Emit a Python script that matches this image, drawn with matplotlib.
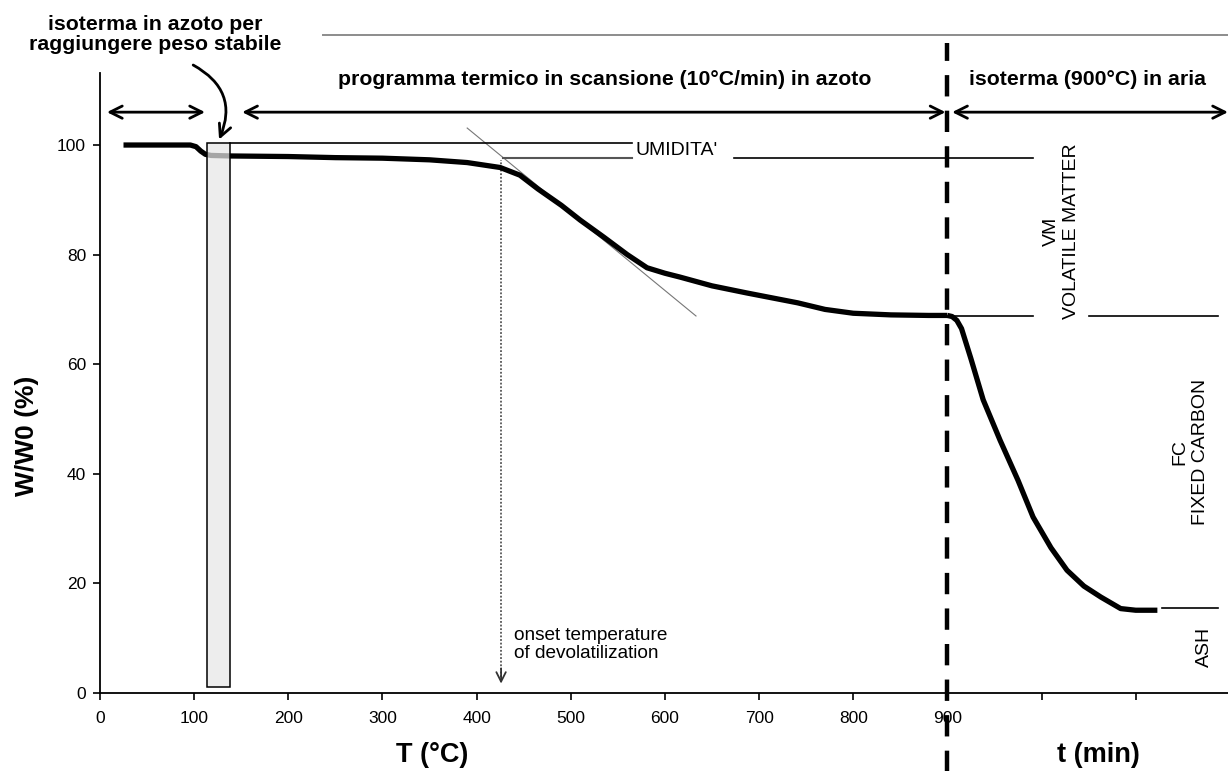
import matplotlib
matplotlib.use("Agg")
import matplotlib.pyplot as plt
from matplotlib import font_manager

names = {f.name for f in font_manager.fontManager.ttflist}
narrow = "Liberation Sans Narrow" if "Liberation Sans Narrow" in names else "Liberation Sans"
plt.rcParams["font.family"] = ["Liberation Sans", "DejaVu Sans"]

# scansione in azoto: temperatura (°C) e peso residuo (%)
T_scan = [25, 60, 96, 102, 107, 112, 118, 140, 200, 250, 300, 350, 390, 425, 446,
          465, 490, 510, 535, 560, 581, 600, 616, 650, 687, 741, 770, 800, 840, 880, 900]
W_scan = [100, 100, 100, 99.7, 98.9, 98.3, 98.1, 98.0, 97.9, 97.7, 97.6, 97.3, 96.8, 95.9, 94.5,
          92.0, 89.0, 86.3, 83.2, 80.0, 77.6, 76.6, 75.9, 74.3, 73.0, 71.2, 70.0, 69.3, 69.0, 68.9, 68.9]

# isoterma in aria (asse oltre 900 = tempo)
t_iso = [900, 905, 910, 915, 925, 938, 956, 975, 991, 1010, 1027, 1045, 1063, 1084, 1100, 1123]
W_iso = [68.9, 68.7, 68.0, 66.5, 61.0, 53.5, 46.1, 38.8, 32.1, 26.5, 22.4, 19.5, 17.5, 15.4, 15.1, 15.1]

x_ticks = [0, 100, 200, 300, 400, 500, 600, 700, 800, 900, 1000, 1100]
x_labels = ["0", "100", "200", "300", "400", "500", "600", "700", "800", "900", "", ""]
y_ticks = [0, 20, 40, 60, 80, 100]

umidita_level = 97.6
vm_level = 68.8
ash_level = 15.5
onset_T = 426

fig = plt.figure(figsize=(12.28, 7.71), dpi=100)
ax = fig.add_axes([0.0814, 0.1012, 0.9186, 0.8038])
ax.set_xlim(0, 1198)
ax.set_ylim(0, 113.1)

for s in ["top", "right"]:
    ax.spines[s].set_visible(False)
for s in ["left", "bottom"]:
    ax.spines[s].set_linewidth(1.3)

ax.set_xticks(x_ticks)
ax.set_xticklabels(x_labels)
ax.set_yticks(y_ticks)
ax.tick_params(direction="out", length=5, width=1.2, labelsize=12.5)
ax.tick_params(axis="x", pad=8)
ax.tick_params(axis="y", pad=5)
for lab in ax.get_xticklabels() + ax.get_yticklabels():
    lab.set_family([narrow, "Liberation Sans"])

# tangente per la temperatura di onset
ax.plot([390, 633], [103.1, 68.8], color="#777777", lw=0.8, zorder=2)

# linee di riferimento
ax.plot([138, 565], [100.4, 100.4], color="black", lw=1.2, zorder=2)
ax.plot([428, 565], [umidita_level, umidita_level], color="#555555", lw=1.5, zorder=2)
ax.plot([673, 991], [umidita_level, umidita_level], color="black", lw=1.2, zorder=2)
ax.plot([898, 991], [vm_level, vm_level], color="black", lw=1.2, zorder=2)
ax.plot([1050, 1187], [vm_level, vm_level], color="black", lw=1.2, zorder=2)
ax.plot([1128, 1187], [ash_level, ash_level], color="black", lw=1.2, zorder=2)

ax.text(569, 99.0, "UMIDITA'", fontsize=14, va="center", ha="left")

# curva TGA
ax.plot(T_scan, W_scan, color="black", lw=3.8, solid_capstyle="butt",
        solid_joinstyle="round", zorder=3)
ax.plot(t_iso, W_iso, color="black", lw=3.8, solid_capstyle="butt",
        solid_joinstyle="round", zorder=3)

# intervallo isoterma in azoto
ax.bar(126, 99.4, width=24, bottom=1, color=(0.9, 0.9, 0.9, 0.72),
       edgecolor="black", linewidth=1.1, zorder=4)

# onset
ax.vlines(onset_T, 3, umidita_level - 0.3, colors="#555555", linestyles=(0, (1, 1)), lw=1.3, zorder=2)
ax.annotate("", xy=(onset_T, 1.2), xytext=(onset_T, 5),
            arrowprops=dict(arrowstyle="->", lw=1.3, color="#333333", mutation_scale=17))
ax.text(440, 8.9, "onset temperature\nof devolatilization", fontsize=13.7,
        ha="left", va="center", linespacing=1.05)

# frecce delle fasi
arrow_y = 106
for x0, x1 in [(7.4, 111.6), (151, 898), (905, 1198)]:
    ax.annotate("", xy=(x1, arrow_y), xytext=(x0, arrow_y), annotation_clip=False,
                arrowprops=dict(arrowstyle="<->", lw=2, color="black",
                                mutation_scale=22, shrinkA=0, shrinkB=0))

ax.text(536, 111.9, "programma termico in scansione (10°C/min) in azoto",
        fontsize=15.3, fontweight="bold", ha="center", va="center")
ax.text(1087 / 0.9411 - 106.3, 111.9, "isoterma (900°C) in aria",
        fontsize=15.3, fontweight="bold", ha="center", va="center")

fig.text(155 / 1228, 1 - 34.5 / 771, "isoterma in azoto per\nraggiungere peso stabile",
         fontsize=15.3, fontweight="bold", ha="center", va="center", linespacing=1.1)
ax.annotate("", xy=(126.5, 101.0), xytext=(99, 114.6), annotation_clip=False,
            arrowprops=dict(arrowstyle="->", lw=2, color="black", mutation_scale=22,
                            shrinkA=0, shrinkB=0, connectionstyle="arc3,rad=-0.45"))

# componenti
ax.text(1021, 84.3, "VM\nVOLATILE MATTER", rotation=90, fontsize=14,
        ha="center", va="center", multialignment="center", linespacing=1.25,
        family=[narrow, "Liberation Sans"])
ax.text(1158, 44, "FC\nFIXED CARBON", rotation=90, fontsize=14,
        ha="center", va="center", multialignment="center", linespacing=1.25,
        family=[narrow, "Liberation Sans"])
ax.text(1173, 8.4, "ASH", rotation=90, fontsize=14, ha="center", va="center",
        family=[narrow, "Liberation Sans"])

# separazione scansione / isoterma
ax.plot([900, 900], [-0.13, 1.0485], transform=ax.get_xaxis_transform(), clip_on=False,
        color="black", lw=3.2, ls=(0, (4.8, 3.2)), zorder=6)

# linea grigia in alto
fig.add_artist(plt.Line2D([323 / 1228, 1.0], [1 - 35 / 771, 1 - 35 / 771],
                          color="#8c8c8c", lw=1.4))

fig.text(27 / 1228, 1 - 436 / 771, "W/W0 (%)", rotation=90, fontsize=19,
         fontweight="bold", ha="center", va="center")
fig.text(432 / 1228, 1 - 755 / 771, "T (°C)", fontsize=19.5, fontweight="bold",
         ha="center", va="center")
fig.text(1098 / 1228, 1 - 755 / 771, "t (min)", fontsize=19.5, fontweight="bold",
         ha="center", va="center")

fig.savefig("out.png", dpi=100)
